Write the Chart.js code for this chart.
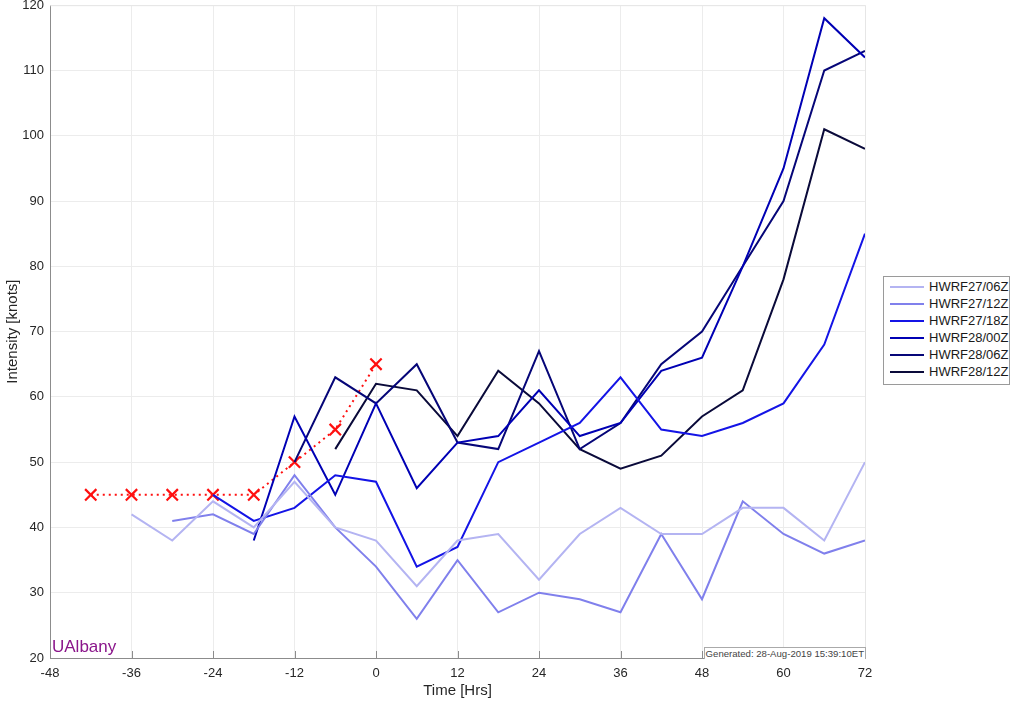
<!DOCTYPE html>
<html>
<head>
<meta charset="utf-8">
<script src="https://cdn.jsdelivr.net/npm/chart.js@4.4.1/dist/chart.umd.min.js"></script>
<style>
    html, body { margin: 0; padding: 0; background: #fff; overflow: hidden; }
    #wrap { position: relative; width: 1015px; height: 704px; overflow: hidden; font-family: "Liberation Sans", Arial, sans-serif; }
    #chart { position: absolute; left: 0; top: -5px; }
    #legend {
        position: absolute; left: 883px; top: 276px; width: 127px; height: 109px;
        box-sizing: border-box; border: 1px solid #9a9a9a; background: #fff;
        padding-top: 1px;
    }
    .item { height: 17px; display: flex; align-items: center; font-size: 13px; color: #1a1a1a; }
    .swatch { width: 34px; height: 2px; margin: 0 5px 0 6px; }
    #ualbany { position: absolute; left: 52px; top: 637px; font-size: 17px; color: #8b168b; }
    #generated {
        position: absolute; right: 149px; top: 647px; height: 11px; line-height: 11px;
        font-family: "Liberation Sans Narrow", "Liberation Sans", Arial, sans-serif;
        font-size: 9.6px; color: #444; border: 1px solid #aaa; border-bottom: none; padding: 0 1px;
        background: #fff;
    }
</style>
</head>
<body>
<div id="wrap">
    <canvas id="chart" width="1015" height="709"></canvas>
    <div id="legend"></div>
    <div id="ualbany">UAlbany</div>
    <div id="generated">Generated: 28-Aug-2019 15:39:10ET</div>
</div>
<script>
// forecast hours
const hours = [-42, -36, -30, -24, -18, -12, -6, 0, 6, 12, 18, 24, 30, 36, 42, 48, 54, 60, 66, 72];

// observed intensity (red x)
const observed = [45, 45, 45, 45, 45, 50, 55, 65, null, null, null, null, null, null, null, null, null, null, null, null];

// HWRF runs
const seriesNames = ['HWRF27/06Z', 'HWRF27/12Z', 'HWRF27/18Z', 'HWRF28/00Z', 'HWRF28/06Z', 'HWRF28/12Z'];
const hwrf27_06 = [null, 42, 38, 44, 40, 47, 40, 38, 31, 38, 39, 32, 39, 43, 39, 39, 43, 43, 38, 50];
const hwrf27_12 = [null, null, 41, 42, 39, 48, 40, 34, 26, 35, 27, 30, 29, 27, 39, 29, 44, 39, 36, 38];
const hwrf27_18 = [null, null, null, 45, 41, 43, 48, 47, 34, 37, 50, 53, 56, 63, 55, 54, 56, 59, 68, 85];
const hwrf28_00 = [null, null, null, null, 38, 57, 45, 59, 46, 53, 54, 61, 54, 56, 64, 66, 80, 95, 118, 112];
const hwrf28_06 = [null, null, null, null, null, 50, 63, 59, 65, 53, 52, 67, 52, 56, 65, 70, 80, 90, 110, 113];
const hwrf28_12 = [null, null, null, null, null, null, 52, 62, 61, 54, 64, 59, 52, 49, 51, 57, 61, 78, 101, 98];

const yTicks = [20, 30, 40, 50, 60, 70, 80, 90, 100, 110, 120];
const xTicks = [-48, -36, -24, -12, 0, 12, 24, 36, 48, 60, 72];

const seriesValues = [hwrf27_06, hwrf27_12, hwrf27_18, hwrf28_00, hwrf28_06, hwrf28_12];
const seriesColors = ['#b4b4f2', '#8080ec', '#1414e6', '#0000b4', '#060678', '#0a0a3a'];

const toPoints = vals => hours.map((h, i) => ({ x: h, y: vals[i] })).filter(p => p.y !== null);

const datasets = seriesValues.map((vals, i) => ({
    label: seriesNames[i],
    data: toPoints(vals),
    borderColor: seriesColors[i],
    borderWidth: 2,
    pointRadius: 0,
    fill: false,
    tension: 0
}));

datasets.push({
    label: 'Observed',
    data: toPoints(observed),
    borderColor: '#ff1010',
    borderWidth: 2,
    borderDash: [2, 4],
    pointStyle: 'crossRot',
    pointRadius: 8,
    pointBorderWidth: 2.2,
    pointBorderColor: '#ff1010',
    fill: false
});

// legend
const legend = document.getElementById('legend');
seriesNames.forEach((name, i) => {
    const row = document.createElement('div');
    row.className = 'item';
    row.innerHTML = '<span class="swatch" style="background:' + seriesColors[i] + '"></span>' + name;
    legend.appendChild(row);
});

// box around plot + inward ticks on x axis
const boxPlugin = {
    id: 'box',
    afterDraw(chart) {
        const { ctx, chartArea: a, scales } = chart;
        ctx.save();
        ctx.strokeStyle = '#e6e6e6';
        ctx.lineWidth = 1;
        ctx.beginPath();
        ctx.moveTo(a.left, a.top + 0.5);
        ctx.lineTo(a.right + 0.5, a.top + 0.5);
        ctx.lineTo(a.right + 0.5, a.bottom);
        ctx.stroke();
        ctx.strokeStyle = '#8c8c8c';
        ctx.beginPath();
        xTicks.forEach(t => {
            const x = Math.round(scales.x.getPixelForValue(t)) + 0.5;
            ctx.moveTo(x, a.bottom);
            ctx.lineTo(x, a.bottom - 7);
        });
        ctx.stroke();
        ctx.restore();
    }
};

const font = { family: '"Liberation Sans", Arial, sans-serif', size: 13 };

new Chart(document.getElementById('chart'), {
    type: 'line',
    data: { datasets },
    options: {
        responsive: false,
        animation: false,
        layout: { padding: { top: 0, right: 150, left: 0, bottom: 0 } },
        plugins: { legend: { display: false }, tooltip: { enabled: false } },
        scales: {
            x: {
                type: 'linear',
                min: -48, max: 72,
                afterBuildTicks: s => { s.ticks = xTicks.map(v => ({ value: v })); },
                afterFit: s => { s.height = 46; },
                grid: { color: '#ececec', drawTicks: false },
                border: { color: '#8c8c8c', width: 1 },
                ticks: { color: '#262626', font, padding: 8, maxRotation: 0 },
                title: { display: true, text: 'Time [Hrs]', color: '#262626', font: { ...font, size: 15 }, padding: { top: 1 } }
            },
            y: {
                min: 20, max: 120,
                afterBuildTicks: s => { s.ticks = yTicks.map(v => ({ value: v })); },
                afterFit: s => { s.width = 50; s.paddingTop = 0; },
                grid: { color: '#ececec', drawTicks: false },
                border: { color: '#8c8c8c', width: 1 },
                ticks: { color: '#262626', font, padding: 6 },
                title: { display: true, text: 'Intensity [knots]', color: '#262626', font: { ...font, size: 15 }, padding: { bottom: 0 } }
            }
        }
    },
    plugins: [boxPlugin]
});
</script>
</body>
</html>
